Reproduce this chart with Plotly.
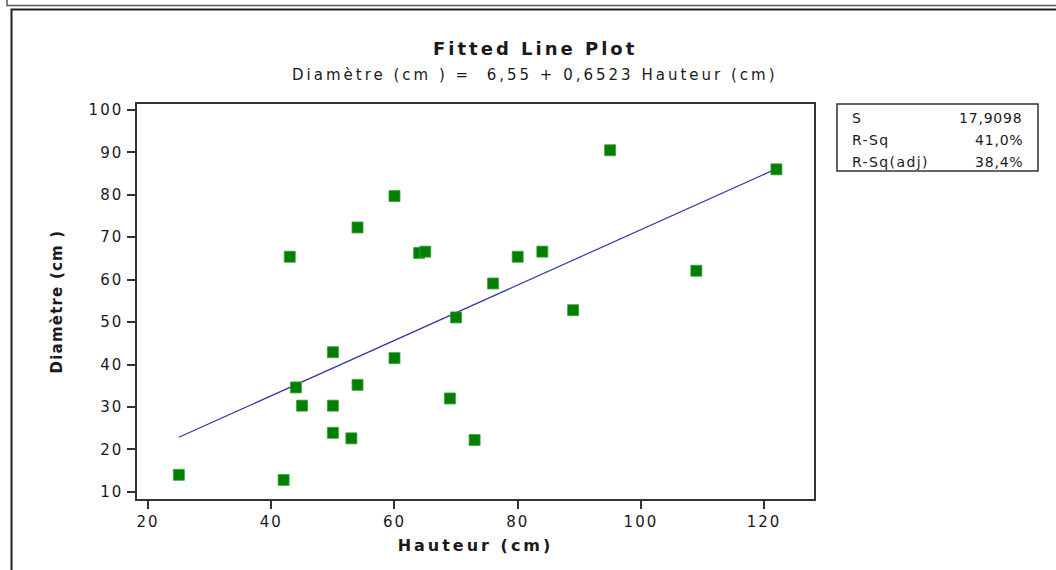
import plotly.graph_objects as go

# ---- data ----
hauteur = [25, 42, 43, 44, 45, 50, 50, 50, 53, 54, 54, 60, 60, 64, 65,
           69, 70, 73, 76, 80, 84, 89, 95, 109, 122]
diametre = [14.0, 12.8, 65.4, 34.6, 30.3, 42.9, 30.3, 23.9, 22.6, 35.2, 72.3,
            79.7, 41.5, 66.3, 66.6, 32.0, 51.1, 22.2, 59.1, 65.4, 66.6, 52.8,
            90.5, 62.1, 86.0]
intercept = 6.55
slope = 0.6523
x_ticks = [20, 40, 60, 80, 100, 120]
y_ticks = [10, 20, 30, 40, 50, 60, 70, 80, 90, 100]
stat_labels = ["S", "R-Sq", "R-Sq(adj)"]
stat_values = ["17,9098", "41,0%", "38,4%"]
title_text = "Fitted Line Plot"
subtitle_text = "Diamètre (cm ) =  6,55 + 0,6523 Hauteur (cm)"
x_title = "Hauteur (cm)"
y_title = "Diamètre (cm )"

# ---- layout geometry (pixels) ----
W_FIG, H_FIG = 1056, 570
L, T, R, B = 137, 104, 814, 499
PW, PH = R - L, B - T


def px(x):
    return (x - L) / PW


def py(y):
    return (B - y) / PH


def sp(text, spacing):
    return f'<span style="letter-spacing:{spacing}px">{text}</span>'


FONT = "DejaVu Sans"
INK = "#1a1a1a"

fit_x = [min(hauteur), max(hauteur)]
fit_y = [intercept + slope * v for v in fit_x]

fig = go.Figure()
fig.add_trace(go.Scatter(
    x=fit_x, y=fit_y, mode="lines",
    line=dict(color="#3434a6", width=1.2),
    hoverinfo="skip", showlegend=False))
fig.add_trace(go.Scatter(
    x=hauteur, y=diametre, mode="markers",
    marker=dict(symbol="square", size=11, color="#007f00",
                line=dict(color="#3f9f3f", width=0.8)),
    showlegend=False))

axis_common = dict(
    showgrid=False, zeroline=False, showline=True, mirror=True,
    linecolor="#333333", linewidth=1.5, ticks="outside", ticklen=8,
    tickwidth=1.5, tickcolor="#333333",
    tickfont=dict(family=FONT, size=15, color=INK),
)

fig.update_layout(
    width=W_FIG, height=H_FIG,
    margin=dict(l=L, r=W_FIG - R, t=T, b=H_FIG - B, pad=0),
    paper_bgcolor="white", plot_bgcolor="white",
    font=dict(family=FONT, color=INK),
    xaxis=dict(
        range=[18.2, 128.1], tickmode="array", tickvals=x_ticks,
        ticktext=[sp(str(v), 2) for v in x_ticks],
        title=dict(text="<b>" + sp(x_title, 3) + "</b>",
                   font=dict(family=FONT, size=16, color=INK), standoff=10),
        **axis_common),
    yaxis=dict(
        range=[8.3, 101.4], tickmode="array", tickvals=y_ticks,
        ticktext=[sp(str(v), 2) for v in y_ticks],
        ticklabelstandoff=1,
        title=dict(text="<b>" + sp(y_title, 1.2) + "</b>",
                   font=dict(family=FONT, size=15, color=INK), standoff=22),
        **axis_common),
)

annotations = [
    dict(text="<b>" + sp(title_text, 3) + "</b>", x=px(535), y=py(49),
         xref="paper", yref="paper", showarrow=False,
         xanchor="center", yanchor="middle",
         font=dict(family=FONT, size=18, color=INK)),
    dict(text=sp(subtitle_text, 3), x=px(535), y=py(75),
         xref="paper", yref="paper", showarrow=False,
         xanchor="center", yanchor="middle",
         font=dict(family=FONT, size=15, color=INK)),
]
row_y = [118, 140, 161.5]
for lab, val, yy in zip(stat_labels, stat_values, row_y):
    annotations.append(dict(text=sp(lab, 1.4), x=px(850), y=py(yy),
                            xref="paper", yref="paper", showarrow=False,
                            xanchor="left", yanchor="middle",
                            font=dict(family=FONT, size=14, color=INK)))
    annotations.append(dict(text=sp(val, 0.8), x=px(1025), y=py(yy),
                            xref="paper", yref="paper", showarrow=False,
                            xanchor="right", yanchor="middle",
                            font=dict(family=FONT, size=14, color=INK)))
fig.update_layout(annotations=annotations)

shapes = [
    # stats box
    dict(type="rect", xref="paper", yref="paper",
         x0=px(837), x1=px(1038), y0=py(171), y1=py(104),
         line=dict(color="#333333", width=1.5), fillcolor="rgba(0,0,0,0)"),
    # outer frames
    dict(type="path", xref="paper", yref="paper",
         path=f"M {px(7)} {py(0)} L {px(7)} {py(5.5)} L {px(1056)} {py(5.5)}",
         line=dict(color="#555555", width=1.5)),
    dict(type="path", xref="paper", yref="paper",
         path=f"M {px(11.5)} {py(570)} L {px(11.5)} {py(9.5)} L {px(1056)} {py(9.5)}",
         line=dict(color="#222222", width=2)),
]
fig.update_layout(shapes=shapes)

fig.write_html("out.html",
               config={"displayModeBar": False},
               post_script="document.body.style.margin='0';"
                           "document.body.style.overflow='hidden';")
